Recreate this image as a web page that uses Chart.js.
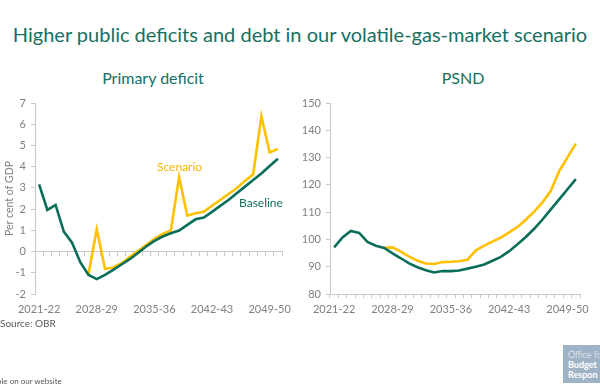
<!DOCTYPE html>
<html>
<head>
<meta charset="utf-8">
<script src="https://cdn.jsdelivr.net/npm/chart.js@4.4.0/dist/chart.umd.min.js"></script>
<style>
  html, body { margin: 0; padding: 0; background: #fff; }
  body { width: 600px; height: 392px; position: relative; overflow: hidden; font-family: Lato, sans-serif; }
  .title { position: absolute; left: 0; width: 600px; top: 22px; text-align: center; font-size: 20px; color: #15705f; white-space: nowrap; }
  .sub { position: absolute; top: 68px; font-size: 16px; color: #15705f; text-align: center; white-space: nowrap; }
  .wrap { position: absolute; top: 90px; height: 230px; }
  .note { position: absolute; white-space: nowrap; }
  .logo { position: absolute; left: 563px; top: 345px; width: 40px; height: 38px; background: #9fb3c6; color: #fff; font-size: 9px; line-height: 10px; padding: 5px 0 0 5px; box-sizing: border-box; overflow: hidden; white-space: nowrap; }
</style>
</head>
<body>
<div class="title">Higher public deficits and debt in our volatile-gas-market scenario</div>
<div class="sub" style="left:58px;width:190px;">Primary deficit</div>
<div class="sub" style="left:413px;width:100px;">PSND</div>

<div class="wrap" style="left:0;width:292px;"><canvas id="deficitChart" width="292" height="230"></canvas></div>
<div class="wrap" style="left:300px;width:300px;"><canvas id="psndChart" width="300" height="230"></canvas></div>

<div class="note" style="left:157px;top:159px;font-size:12px;color:#f2b400;">Scenario</div>
<div class="note" style="left:239px;top:195px;font-size:12px;color:#0d6f5c;">Baseline</div>

<div class="note" style="left:0;top:317px;font-size:10px;color:#595959;">Source: OBR</div>
<div class="note" style="left:-3px;top:376px;font-size:8px;color:#595959;">ble on our website</div>
<div class="logo"><span style="font-weight:300">Office for</span><br><b>Budget</b><br><b>Respon</b></div>

<script>
// financial years on the x axis
const years = ['2021-22', '2022-23', '2023-24', '2024-25', '2025-26', '2026-27', '2027-28', '2028-29',
  '2029-30', '2030-31', '2031-32', '2032-33', '2033-34', '2034-35', '2035-36', '2036-37', '2037-38',
  '2038-39', '2039-40', '2040-41', '2041-42', '2042-43', '2043-44', '2044-45', '2045-46', '2046-47',
  '2047-48', '2048-49', '2049-50', '2050-51'];
const shownYears = ['2021-22', '2028-29', '2035-36', '2042-43', '2049-50'];

// Primary deficit, per cent of GDP
const deficitBaseline = [3.17, 1.96, 2.20, 0.94, 0.42, -0.50, -1.10, -1.30, -1.10, -0.86, -0.61, -0.36, -0.07, 0.24,
  0.50, 0.71, 0.86, 0.99, 1.26, 1.52, 1.60, 1.87, 2.15, 2.43, 2.75, 3.06, 3.37, 3.68, 4.03, 4.37];
const deficitScenario = [null, null, null, null, null, null, -1.06, 1.05, -0.81, -0.75, -0.55, -0.26, 0.02, 0.31,
  0.60, 0.83, 0.99, 3.50, 1.69, 1.81, 1.88, 2.16, 2.43, 2.71, 2.98, 3.33, 3.64, 6.38, 4.67, 4.84];
const deficitRange = [-2, 7];

// Public sector net debt, per cent of GDP
const psndBaseline = [97.1, 100.7, 103.1, 102.4, 99.1, 97.7, 96.9, 94.9, 93.1, 91.2, 89.8, 88.7, 87.9, 88.4,
  88.4, 88.6, 89.3, 90.0, 90.8, 92.2, 93.6, 95.7, 98.2, 100.9, 103.9, 107.3, 111.0, 114.7, 118.4, 122.1];
const psndScenario = [null, null, null, null, null, null, 96.9, 97.1, 95.5, 93.7, 92.2, 91.2, 91.0, 91.7,
  91.8, 92.0, 92.5, 96.0, 97.7, 99.2, 100.7, 102.6, 104.6, 107.2, 110.2, 113.6, 117.8, 125.0, 130.1, 135.1];
const psndRange = [80, 150];

const GREEN = '#0b6e5a';
const YELLOW = '#ffc000';
const GREY = '#808080';
const AXIS = '#c8c8c8';
const tickFont = { family: 'Lato', size: 11 };

function lineSet(label, data, color) {
  return { label: label, data: data, borderColor: color, borderWidth: 2.6, pointRadius: 0, tension: 0, fill: false };
}

function xAxis() {
  return {
    offset: true,
    border: { display: false },
    grid: { display: false, drawTicks: true, tickLength: 4 },
    ticks: {
      autoSkip: false, maxRotation: 0, color: GREY, font: tickFont, padding: 5,
      callback: (v, i) => shownYears.includes(years[i]) ? years[i] : ''
    },
    afterFit: s => { s.height = 26; }
  };
}

function yAxis(range, step, width) {
  return {
    min: range[0], max: range[1],
    border: { color: AXIS },
    grid: { drawOnChartArea: false, tickLength: 4, color: AXIS },
    ticks: { stepSize: step, color: GREY, font: tickFont, padding: 5 },
    afterFit: s => { s.width = width; }
  };
}

// Primary deficit
const defY = yAxis(deficitRange, 1, 35);
defY.title = { display: true, text: 'Per cent of GDP', color: GREY, font: { family: 'Lato', size: 10.5 }, padding: { top: 3, bottom: 0 } };

new Chart(document.getElementById('deficitChart'), {
  type: 'line',
  data: {
    labels: years,
    datasets: [lineSet('Baseline', deficitBaseline, GREEN), lineSet('Scenario', deficitScenario, YELLOW)]
  },
  options: {
    responsive: false,
    animation: false,
    layout: { padding: { top: 13, right: 10, left: 0, bottom: 0 } },
    plugins: { legend: { display: false }, tooltip: { enabled: false } },
    scales: {
      x: xAxis(),
      xZero: {
        type: 'category',
        axis: 'x',
        position: { y: 0 },
        offset: true,
        border: { color: AXIS },
        grid: { offset: true, drawOnChartArea: false, tickLength: 4, color: AXIS },
        ticks: { display: false, autoSkip: false }
      },
      y: defY
    }
  }
});

// PSND
const psndX = xAxis();
psndX.border = { display: true, color: AXIS };
psndX.grid = { offset: true, drawOnChartArea: false, drawTicks: true, tickLength: 4, color: AXIS };

new Chart(document.getElementById('psndChart'), {
  type: 'line',
  data: {
    labels: years,
    datasets: [lineSet('Baseline', psndBaseline, GREEN), lineSet('Scenario', psndScenario, YELLOW)]
  },
  options: {
    responsive: false,
    animation: false,
    layout: { padding: { top: 13, right: 20, left: 0, bottom: 0 } },
    plugins: { legend: { display: false }, tooltip: { enabled: false } },
    scales: {
      x: psndX,
      y: yAxis(psndRange, 10, 30)
    }
  }
});
</script>
</body>
</html>
